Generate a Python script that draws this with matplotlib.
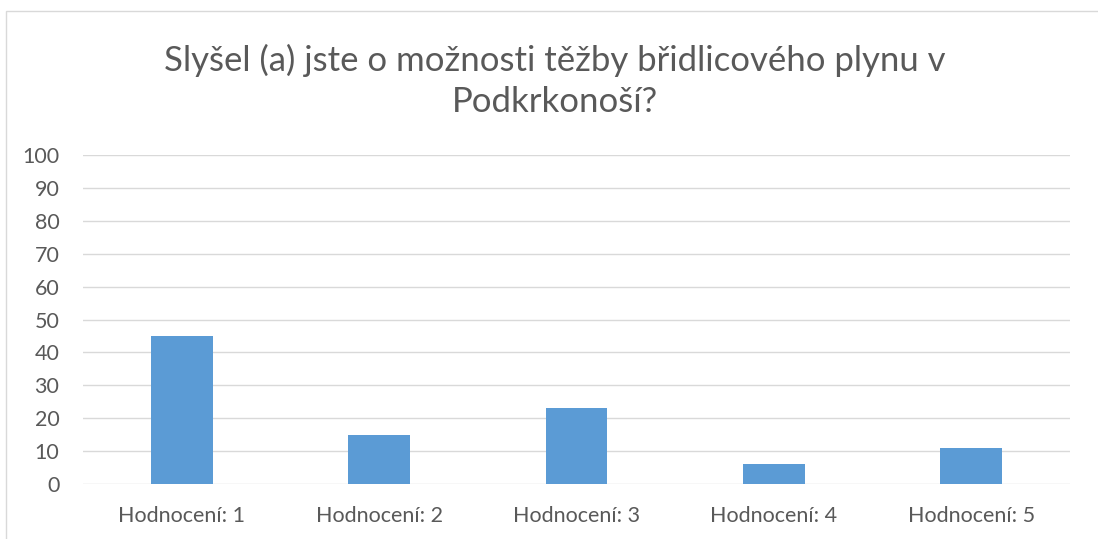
import numpy as np
import matplotlib
matplotlib.use("Agg")
import matplotlib.pyplot as plt
from matplotlib.patches import Rectangle

# -----------------------------
# Data
# -----------------------------
categories = ["Hodnocení: 1", "Hodnocení: 2", "Hodnocení: 3", "Hodnocení: 4", "Hodnocení: 5"]
values = [45, 15, 23, 6, 11]
y_ticks = [0, 10, 20, 30, 40, 50, 60, 70, 80, 90, 100]
title = "Slyšel (a) jste o možnosti těžby břidlicového plynu v\nPodkrkonoší?"

bar_color = "#5B9BD5"
grid_color = "#D9D9D9"
text_color = "#595959"

plt.rcParams['font.family'] = ['Lato', 'DejaVu Sans']

fig = plt.figure(figsize=(10.98, 5.39), dpi=100)
W, H = 1098, 539

# chart frame (cropped on the right and bottom)
fig.patches.append(Rectangle((6 / W, -0.1), 1.2, 1 - 11 / H + 0.1,
                             transform=fig.transFigure, fill=False,
                             edgecolor=grid_color, linewidth=1))

ax = fig.add_axes([83 / W, 1 - 484 / H, (1070 - 83) / W, (484 - 155) / H])
x = np.arange(len(categories))
ax.bar(x, values, width=0.313, color=bar_color, zorder=3)

ax.set_xlim(-0.5, len(categories) - 0.5)
ax.set_ylim(0, 100)
ax.set_yticks(y_ticks)
ax.set_xticks(x)
ax.set_xticklabels(categories)
ax.grid(axis='y', color=grid_color, linewidth=1, zorder=0)
for s in ax.spines.values():
    s.set_visible(False)
ax.tick_params(axis='both', length=0, labelsize=15.5, colors=text_color)
ax.tick_params(axis='y', pad=17)
ax.tick_params(axis='x', pad=16)

fig.text(555 / W, 1 - 81 / H, title, ha='center', va='center',
         fontsize=25, color=text_color, linespacing=1.35)

fig.savefig("out.png", dpi=100)
